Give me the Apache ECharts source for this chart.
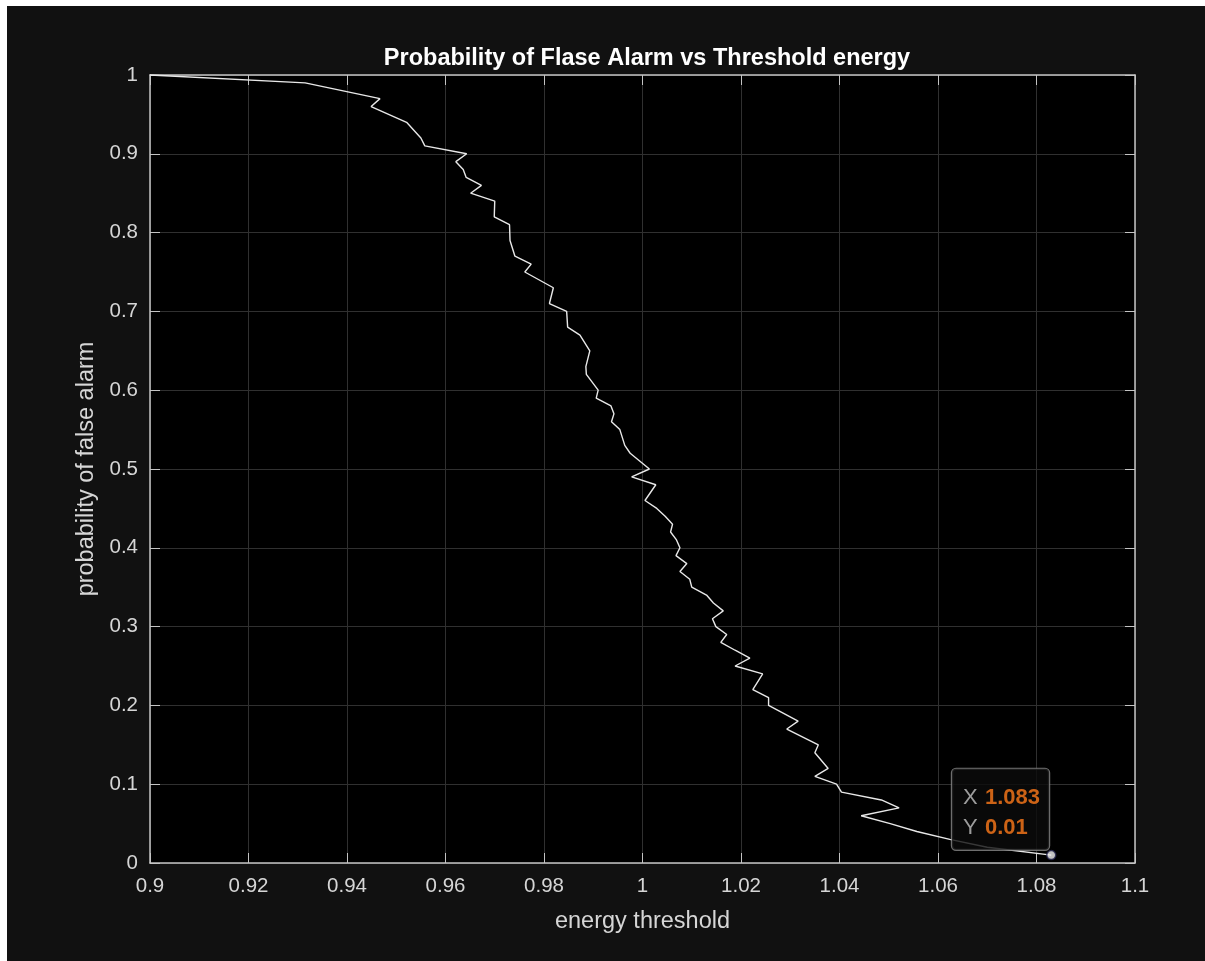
<!DOCTYPE html>
<html><head><meta charset="utf-8">
<script src="https://cdn.jsdelivr.net/npm/echarts@6/dist/echarts.min.js"></script>
<style>html,body{margin:0;padding:0;background:#fff;overflow:hidden}#c{position:absolute;left:7px;top:6px;width:1198px;height:955px}</style>
</head><body><div id="c"></div><script>
// energy threshold (x) and probability of false alarm (y)
const energyThreshold = [0.9000,0.9315,0.9467,0.9449,0.9521,0.9550,0.9558,0.9643,0.9621,0.9636,0.9642,0.9673,0.9651,0.9700,0.9699,0.9730,0.9731,0.9741,0.9774,0.9761,0.9819,0.9811,0.9846,0.9848,0.9873,0.9893,0.9885,0.9886,0.9910,0.9906,0.9936,0.9942,0.9937,0.9954,0.9964,0.9975,1.0014,0.9978,1.0027,1.0005,1.0029,1.0046,1.0061,1.0057,1.0069,1.0076,1.0068,1.0090,1.0076,1.0096,1.0100,1.0130,1.0144,1.0164,1.0142,1.0149,1.0171,1.0159,1.0188,1.0218,1.0188,1.0244,1.0224,1.0256,1.0256,1.0316,1.0293,1.0357,1.0350,1.0377,1.0350,1.0394,1.0404,1.0485,1.0521,1.0444,1.0503,1.0557,1.0624,1.0700,1.0830];
const falseAlarmProb = [1.00,0.99,0.97,0.96,0.94,0.92,0.91,0.90,0.89,0.88,0.87,0.86,0.85,0.84,0.82,0.81,0.79,0.77,0.76,0.75,0.73,0.71,0.70,0.68,0.67,0.65,0.63,0.62,0.60,0.59,0.58,0.57,0.56,0.55,0.53,0.52,0.50,0.49,0.48,0.46,0.45,0.44,0.43,0.42,0.41,0.40,0.39,0.38,0.37,0.36,0.35,0.34,0.33,0.32,0.31,0.30,0.29,0.28,0.27,0.26,0.25,0.24,0.22,0.21,0.20,0.18,0.17,0.15,0.14,0.12,0.11,0.10,0.09,0.08,0.07,0.06,0.05,0.04,0.03,0.02,0.01];
const xTickLabels = ['0.9','0.92','0.94','0.96','0.98','1','1.02','1.04','1.06','1.08','1.1'];
const yTickLabels = ['0','0.1','0.2','0.3','0.4','0.5','0.6','0.7','0.8','0.9','1'];
const datatipX = [1.083];
const datatipY = [0.01];

const FONT = 'Liberation Sans, Arial, sans-serif';
const lineData = energyThreshold.map((x, i) => [x, falseAlarmProb[i]]);
const tipData = datatipX.map((x, i) => [x, datatipY[i]]);
const fmt = v => String(+(+v).toPrecision(4));
const axisCol = '#c4c4c4';
const gridCol = '#303030';
const labelCol = '#d6d6d6';

function xAx(pos, main) {
  return {
    type: 'value', position: pos, min: 0.9, max: 1.1, interval: 0.02,
    name: main ? 'energy threshold' : '', nameLocation: 'middle', nameGap: 47,
    nameTextStyle: { color: labelCol, fontSize: 23.5, fontFamily: FONT },
    axisLine: { show: true, onZero: false, lineStyle: { color: axisCol, width: 1.5 } },
    axisTick: { show: true, inside: true, length: 10, lineStyle: { color: axisCol, width: 1 } },
    axisLabel: { show: main, color: labelCol, fontSize: 20.5, fontFamily: FONT, margin: 13,
      formatter: (v) => { const i = Math.round((v - 0.9) / 0.02); return xTickLabels[i] ?? ''; } },
    splitLine: { show: main, lineStyle: { color: gridCol, width: 1 } }
  };
}
function yAx(pos, main) {
  return {
    type: 'value', position: pos, min: 0, max: 1, interval: 0.1,
    name: main ? 'probability of false alarm' : '', nameLocation: 'middle', nameGap: 45,
    nameTextStyle: { color: labelCol, fontSize: 23.5, fontFamily: FONT },
    axisLine: { show: true, onZero: false, lineStyle: { color: axisCol, width: 1.5 } },
    axisTick: { show: true, inside: true, length: 10, lineStyle: { color: axisCol, width: 1 } },
    axisLabel: { show: main, color: labelCol, fontSize: 20.5, fontFamily: FONT, margin: 12,
      formatter: (v) => { const i = Math.round(v / 0.1); return yTickLabels[i] ?? ''; } },
    splitLine: { show: main, lineStyle: { color: gridCol, width: 1 } }
  };
}

const chart = echarts.init(document.getElementById('c'), null, { renderer: 'canvas' });
chart.setOption({
  backgroundColor: '#111111',
  animation: false,
  title: {
    text: 'Probability of Flase Alarm vs Threshold energy',
    left: 635, top: 36, textAlign: 'center',
    textStyle: { color: '#ffffff', fontSize: 23.5, fontWeight: 'bold', fontFamily: FONT }
  },
  grid: { left: 143, right: 70, top: 69, bottom: 98, show: true, backgroundColor: '#000000', borderWidth: 0 },
  xAxis: [xAx('bottom', true), xAx('top', false)],
  yAxis: [yAx('left', true), yAx('right', false)],
  series: [
    {
      type: 'line', data: lineData, xAxisIndex: 0, yAxisIndex: 0,
      showSymbol: false, symbol: 'none', clip: false,
      lineStyle: { color: '#e8e8e8', width: 1.4 }
    },
    {
      type: 'scatter', data: tipData, xAxisIndex: 0, yAxisIndex: 0, z: 5,
      symbol: 'circle', symbolSize: 9,
      itemStyle: { color: '#f2f2f2', borderColor: '#20204a', borderWidth: 1.5 },
      label: {
        show: true, position: [-94, -81],
        backgroundColor: '#0b0b0b', borderColor: '#8a8a8a', borderWidth: 1.2, borderRadius: 4,
        padding: [14, 11, 7, 11], width: 75, lineHeight: 30,
        formatter: (p) => '{k|X}{v|' + fmt(p.value[0]) + '}\n{k|Y}{v|' + fmt(p.value[1]) + '}',
        rich: {
          k: { color: '#c2c2c2', fontSize: 22, fontFamily: FONT, lineHeight: 30, width: 22 },
          v: { color: '#ff7a1a', fontSize: 22, fontWeight: 'bold', fontFamily: FONT, lineHeight: 30 }
        }
      }
    }
  ]
});
</script></body></html>
